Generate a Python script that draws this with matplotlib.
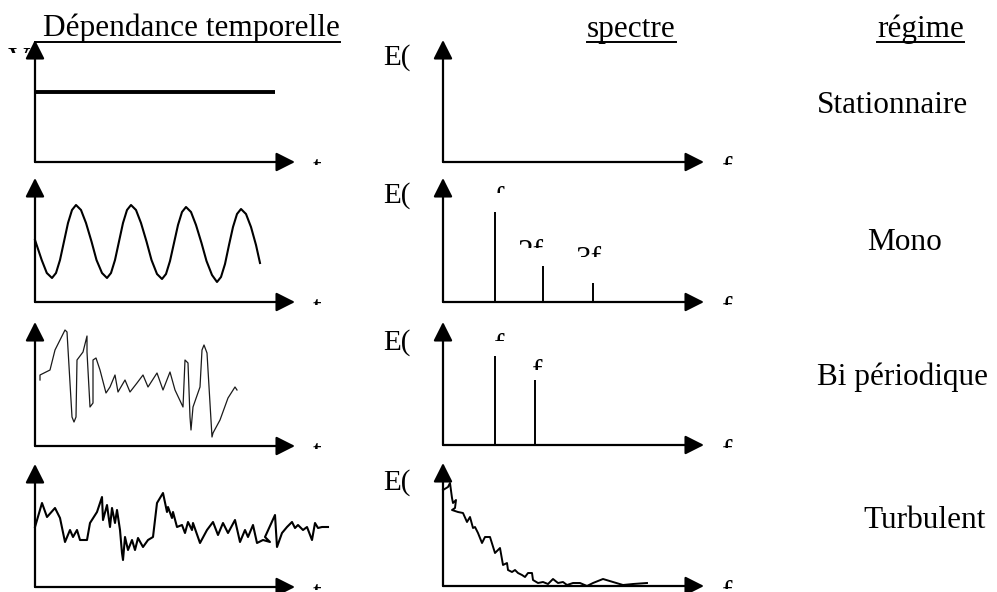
import matplotlib
matplotlib.use("Agg")
import matplotlib.pyplot as plt
from matplotlib.patches import Rectangle
from matplotlib.lines import Line2D

plt.rcParams['font.family'] = ['Liberation Serif', 'DejaVu Serif']

W, H = 997, 592

# ---------------- data (arbitrary units) ----------------
# Row 1 : stationary signal
t_stat = [0, 240]
v_stat = [70, 70]

# Row 2 : mono-periodic signal
t_mono = [0, 6.7, 11.8, 17, 21, 25, 29, 33, 37, 41, 46, 51, 56.5, 61.5, 67, 72,
          76, 80, 84, 88, 92, 96, 101, 106, 111.5, 116.5, 122, 127,
          131, 135, 139, 143, 147, 151, 156, 161, 166.5, 171.5, 177, 182,
          186, 190, 194, 198, 202, 206, 211, 216, 221, 225]
v_mono = [62, 42, 29, 24, 29, 42, 60.5, 79, 92, 97, 92, 79, 60.5, 42, 29, 24,
          29, 42, 60.5, 79, 92, 97, 92, 79, 60.5, 42, 28, 23,
          28, 41, 59, 77, 90, 95, 90, 77, 59, 41, 27, 20,
          25, 38, 57, 75, 88, 93, 88, 75, 57, 39]
f_mono = [52, 100, 150]
E_mono = [90, 36, 19]

# Row 3 : bi-periodic signal
t_bi = [5, 5, 15, 20, 30, 32, 37, 39, 41, 42, 48, 52, 52, 55, 58, 58, 61, 65, 71, 75,
        80, 83, 90, 95, 102, 108, 113, 122, 128, 135, 140, 148, 150, 153, 155, 156,
        158, 165, 167, 169, 172, 177, 178, 185, 193, 200, 202]
v_bi = [66, 71, 76, 96, 116, 114, 29, 24, 29, 86, 94, 110, 94, 39, 43, 86, 88, 76, 53, 59,
        71, 54, 66, 54, 63, 71, 59, 73, 56, 74, 56, 39, 86, 83, 29, 16,
        39, 59, 96, 101, 93, 9, 13, 26, 48, 59, 56]
f_bi = [52, 92]
E_bi = [89, 65]

# Row 4 : turbulent signal
t_turb = [0, 7, 12, 20, 25, 30, 35, 38, 42, 45, 52, 55, 62, 67, 68, 72, 75, 77, 80, 82,
          85, 87, 88, 90, 93, 97, 100, 103, 108, 113, 118, 122, 128, 132, 133, 137, 138,
          142, 147, 150, 153, 157, 158, 165, 172, 178, 183, 188, 193, 200, 205, 210,
          213, 218, 222, 228, 235, 230, 240, 242, 247, 252, 257, 260, 263, 268, 272,
          277, 280, 283, 287, 293]
v_turb = [60, 84, 70, 79, 69, 45, 57, 50, 57, 47, 47, 64, 75, 90, 67, 82, 60, 79, 64, 77,
          57, 34, 27, 50, 37, 47, 37, 49, 40, 47, 50, 84, 94, 75, 80, 69, 75,
          60, 62, 54, 65, 57, 64, 44, 57, 65, 52, 64, 54, 67, 45, 57,
          50, 62, 44, 47, 45, 50, 72, 40, 54, 60, 65, 59, 62, 57, 60,
          47, 64, 59, 60, 60]
f_turb = [0, 5, 7, 9, 10, 13, 12, 9, 15, 20, 24, 27, 30, 32, 35, 39, 42, 47, 52, 55, 57,
          60, 64, 65, 69, 72, 75, 79, 82, 85, 89, 90, 95, 100, 105, 110, 115, 120, 124,
          130, 137, 144, 150, 160, 170, 180, 190, 204]
E_turb = [96, 99, 103, 88, 83, 86, 78, 76, 74, 73, 64, 69, 58, 59, 53, 43, 49, 49, 33, 36, 38,
          21, 23, 16, 14, 16, 13, 11, 9, 13, 13, 6, 3, 4, 2, 7, 3, 4, 1,
          3, 3, 0, 3, 7, 4, 1, 2, 3]

headers = ["Dépendance temporelle", "spectre", "régime"]
regimes = ["Stationnaire", "Mono", "Bi périodique", "Turbulent"]

# ---------------- layout ----------------
fig = plt.figure(figsize=(W / 100, H / 100), dpi=100)
fig.patch.set_facecolor('white')

rows_left = [(162, 40), (302, 178), (446, 322), (587, 464)]
rows_right = [(162, 40), (302, 178), (445, 322), (586, 463)]
xl0, Ll = 35, 260
xr0, Lr = 443, 261


def make_panel(x0, L, base, tip):
    h = base - tip
    ax = fig.add_axes([x0 / W, 1 - base / H, L / W, h / H])
    ax.set_xlim(0, L)
    ax.set_ylim(0, h)
    ax.axis('off')
    ap = dict(arrowstyle='-|>,head_length=1.15,head_width=0.58', mutation_scale=10,
              lw=1.6, color='black', shrinkA=0, shrinkB=0)
    ax.annotate('', xy=(L, 0), xytext=(0, 0), arrowprops=ap, annotation_clip=False)
    ax.annotate('', xy=(0, h), xytext=(0, 0), arrowprops=ap, annotation_clip=False)
    return ax


axL = [make_panel(xl0, Ll, b, t) for b, t in rows_left]
axR = [make_panel(xr0, Lr, b, t) for b, t in rows_right]

# time signals
axL[0].plot(t_stat, v_stat, color='black', lw=2.8, solid_capstyle='butt')
axL[1].plot(t_mono, v_mono, color='black', lw=1.5, clip_on=False)
axL[2].plot(t_bi, v_bi, color='#1a1a1a', lw=0.9, clip_on=False)
axL[3].plot(t_turb, v_turb, color='black', lw=1.5, clip_on=False)

# spectra
axR[1].vlines(f_mono, 0, E_mono, color='black', lw=1.4)
axR[2].vlines(f_bi, 0, E_bi, color='black', lw=1.4)
axR[3].plot(f_turb, E_turb, color='black', lw=1.4, clip_on=False)

FS = 22.5


def ftext(x, yb, s, size=FS, **kw):
    return fig.text(x / W, 1 - yb / H, s, ha='left', va='baseline', fontsize=size, **kw)


def clipped(x, yb, s, ctop, cbot, size=FS):
    t = ftext(x, yb, s, size)
    r = Rectangle((0, 1 - cbot / H), 1, (cbot - ctop) / H, transform=fig.transFigure)
    t.set_clip_path(r)
    t.set_clip_on(True)
    return t


# headers (underlined)
h1 = ftext(43, 36, headers[0])
h2 = ftext(587, 37, headers[1])
h3 = ftext(877, 37, headers[2])

# regime names
ftext(817, 113, regimes[0])
ftext(867, 250, regimes[1])
ftext(817, 385, regimes[2])
ftext(863, 528, regimes[3])

# E( labels
for yb in [65, 203, 350, 490]:
    ftext(383, yb, "E(", size=21)

# clipped fragments
clipped(8, 69, "V", 48, 53)
for b, _ in rows_left:
    clipped(313, b + 15, "t", b - 4, b + 3)
for b, _ in rows_right:
    clipped(722, b + 16, "f", b - 6, b + 3)
clipped(494, 208, "f", 186, 193)
clipped(518, 261, "2f", 239, 248)
clipped(575, 268, "3f", 246, 257)
clipped(494, 355, "f", 333, 341)
clipped(532, 381, "f", 359, 370)

# underlines
fig.canvas.draw()
rend = fig.canvas.get_renderer()
for t, xs in [(h1, 35), (h2, None), (h3, None)]:
    bb = t.get_window_extent(rend)
    x0 = bb.x0 if xs is None else xs
    fig.add_artist(Line2D([x0 / W, bb.x1 / W], [1 - 42 / H, 1 - 42 / H],
                          transform=fig.transFigure, color='black', lw=1.4))

fig.savefig("out.png", dpi=100)
